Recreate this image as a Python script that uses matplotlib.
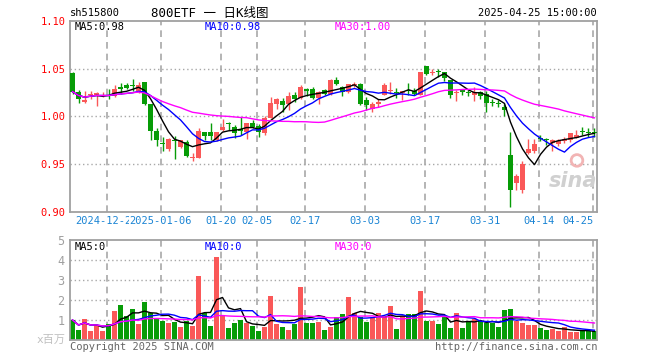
import matplotlib
matplotlib.use('Agg')
import matplotlib.pyplot as plt
import numpy as np
import pandas as pd

plt.rcParams['font.family'] = ['DejaVu Sans Mono', 'Noto Sans CJK SC']

# daily candles, 2024-12-13 .. 2025-04-25
opens = [1.046, 1.026, 1.015, 1.022, 1.021, 1.021, 1.023, 1.021, 1.031, 1.033,
         1.033, 1.027, 1.036, 1.013, 0.985, 0.972, 0.966, 0.975, 0.968, 0.973,
         0.957, 0.957, 0.984, 0.984, 0.975, 0.986, 0.993, 0.989, 0.987, 0.984,
         0.993, 0.990, 0.983, 0.998, 1.0135, 1.016, 1.013, 1.023, 1.019, 1.029,
         1.029, 1.019, 1.028, 1.024, 1.038, 1.031, 1.026, 1.033, 1.034, 1.017,
         1.008, 1.013, 1.023, 1.027, 1.026, 1.025, 1.028, 1.027, 1.023, 1.053,
         1.0455, 1.0475, 1.047, 1.0385, 1.0245, 1.028, 1.026, 1.022, 1.026, 1.024,
         1.015, 1.014, 1.010, 0.960, 0.930, 0.923, 0.9615, 0.964, 0.9774, 0.9764,
         0.9726, 0.971, 0.9747, 0.9754, 0.978, 0.9844, 0.9833, 0.9833]
highs = [1.047, 1.028, 1.027, 1.027, 1.026, 1.026, 1.029, 1.033, 1.035, 1.035,
         1.039, 1.036, 1.036, 1.013, 0.988, 0.979, 0.977, 0.980, 0.975, 0.975,
         0.962, 0.988, 0.984, 0.993, 0.984, 0.997, 0.994, 0.991, 0.999, 0.993,
         0.996, 0.992, 1.000, 1.020, 1.019, 1.019, 1.026, 1.026, 1.033, 1.030,
         1.031, 1.027, 1.029, 1.039, 1.041, 1.032, 1.034, 1.036, 1.035, 1.020,
         1.015, 1.018, 1.035, 1.036, 1.030, 1.027, 1.035, 1.030, 1.047, 1.053,
         1.050, 1.050, 1.047, 1.0385, 1.0275, 1.029, 1.028, 1.031, 1.027, 1.027,
         1.018, 1.017, 1.0135, 0.984, 0.940, 0.953, 0.976, 0.976, 0.981, 0.977,
         0.976, 0.976, 0.979, 0.983, 0.986, 0.989, 0.9875, 0.9875]
lows = [1.024, 1.014, 1.014, 1.018, 1.011, 1.020, 1.018, 1.020, 1.024, 1.029,
        1.027, 1.025, 1.012, 0.975, 0.969, 0.964, 0.964, 0.956, 0.967, 0.958,
        0.953, 0.957, 0.975, 0.975, 0.974, 0.985, 0.986, 0.977, 0.981, 0.976,
        0.988, 0.979, 0.981, 0.998, 1.008, 1.005, 1.007, 1.015, 1.018, 1.021,
        1.018, 1.0135, 1.023, 1.023, 1.033, 1.021, 1.025, 1.031, 1.012, 1.007,
        1.005, 1.010, 1.022, 1.024, 1.019, 1.017, 1.022, 1.022, 1.022, 1.043,
        1.043, 1.041, 1.037, 1.019, 1.016, 1.022, 1.021, 1.016, 1.018, 1.005,
        1.011, 1.010, 1.001, 0.905, 0.923, 0.920, 0.961, 0.9615, 0.974, 0.970,
        0.964, 0.969, 0.972, 0.9736, 0.9778, 0.9806, 0.9788, 0.9788]
closes = [1.026, 1.018, 1.017, 1.024, 1.025, 1.022, 1.022, 1.029, 1.029, 1.030,
          1.032, 1.033, 1.013, 0.985, 0.975, 0.971, 0.976, 0.974, 0.975, 0.959,
          0.958, 0.985, 0.980, 0.980, 0.984, 0.989, 0.992, 0.983, 0.985, 0.993,
          0.989, 0.984, 0.998, 1.014, 1.018, 1.0125, 1.021, 1.018, 1.031, 1.027,
          1.019, 1.026, 1.024, 1.038, 1.034, 1.026, 1.034, 1.034, 1.0135, 1.0125,
          1.0135, 1.015, 1.033, 1.028, 1.025, 1.027, 1.027, 1.024, 1.0465, 1.045,
          1.047, 1.0465, 1.040, 1.022, 1.026, 1.026, 1.025, 1.026, 1.021, 1.014,
          1.014, 1.013, 1.0065, 0.923, 0.938, 0.950, 0.966, 0.971, 0.9767, 0.9757,
          0.9754, 0.9747, 0.9767, 0.9823, 0.9806, 0.9837, 0.9826, 0.9826]
# volume, millions of shares
volumes = [1.0, 0.5, 1.06, 0.45, 0.75, 0.45, 0.8, 1.46, 1.76, 1.2,
           1.56, 0.8, 1.91, 1.34, 1.1, 0.96, 0.86, 0.9, 0.65, 0.95,
           0.7, 3.2, 1.34, 0.7, 4.13, 1.26, 0.6, 0.86, 1.0, 0.86,
           0.7, 0.45, 0.65, 2.2, 0.8, 0.65, 0.5, 0.8, 2.67, 0.86,
           0.86, 0.9, 0.5, 0.65, 1.16, 1.31, 2.16, 1.36, 1.16, 0.9,
           1.1, 1.36, 1.16, 1.71, 0.55, 1.2, 1.31, 1.31, 2.47, 0.96,
           0.96, 0.8, 1.16, 0.6, 1.36, 0.6, 0.9, 1.06, 0.96, 0.86,
           0.86, 0.65, 1.51, 1.56, 0.96, 0.86, 0.75, 0.75, 0.6, 0.5,
           0.55, 0.45, 0.65, 0.4, 0.4, 0.45, 0.45, 0.45]

tick_idx = [6, 15, 25, 31, 39, 49, 59, 69, 78, 87]
tick_labels = ['2024-12-23', '2025-01-06', '01-20', '02-05', '02-17',
               '03-03', '03-17', '03-31', '04-14', '04-25']
price_ticks = [0.90, 0.95, 1.00, 1.05, 1.10]
vol_ticks = [1, 2, 3, 4, 5]

RED = '#fa5858'
GREEN = '#079c07'
FRAME = '#a0a0a0'
GRID = '#a8a8a8'
DATE_C = '#1a84d4'

n = len(closes)
x = np.arange(n)
o = np.array(opens)
c = np.array(closes)
up = c >= o
colors = np.where(up, RED, GREEN)

cs = pd.Series(closes)
vs = pd.Series(volumes)
ma_specs = [(5, 'black'), (10, '#0000ff'), (30, '#ff00ff')]

W, H = 660, 360
fig = plt.figure(figsize=(6.6, 3.6), dpi=100)
ax = fig.add_axes([70 / W, 1 - 212 / H, 527 / W, 191 / H])
axv = fig.add_axes([70 / W, 1 - 340 / H, 527 / W, 100 / H])

for a in (ax, axv):
    a.set_xlim(-0.42, n - 0.58)
    for s in a.spines.values():
        s.set_color(FRAME)
        s.set_linewidth(1.3)
    a.tick_params(length=0)
    a.set_xticks([])
    for t in tick_idx:
        a.axvline(t - 0.3, color=GRID, lw=1.2, dashes=(4, 3), zorder=0)

# ---- price panel ----
ax.set_ylim(0.90, 1.10)
ax.set_yticks(price_ticks)
ax.set_yticklabels(['%.2f' % p for p in price_ticks], color='red', fontsize=7.5)
ax.tick_params(axis='y', pad=3)
for p in price_ticks[1:-1]:
    ax.axhline(p, color=GRID, lw=1, dashes=(1, 2), zorder=0)

ax.vlines(x, lows, highs, colors=colors, lw=1, zorder=2)
body = np.maximum(np.abs(c - o), 0.0007)
ax.bar(x, body, bottom=np.minimum(o, c), width=0.8, color=colors, zorder=3)

ma_labels = []
for win, col in ma_specs:
    ma = cs.rolling(win, min_periods=1).mean()
    ax.plot(x, ma, color=col, lw=1, zorder=4)
    ma_labels.append(('MA%d:%.2f' % (win, ma.iloc[-1]), col))

for (txt, col), xp in zip(ma_labels, [75, 205, 335]):
    ax.text((xp - 70) / 527, 0.968, txt, color=col, fontsize=7.5,
            transform=ax.transAxes, va='center', ha='left')

for k, (t, lab) in enumerate(zip(tick_idx, tick_labels)):
    ha = 'right' if k == len(tick_idx) - 1 else 'center'
    xt = t - 0.3 + (0.2 if ha == 'right' else 0)
    ax.text(xt, -0.047, lab, color=DATE_C, fontsize=7.5, ha=ha, va='center',
            transform=ax.get_xaxis_transform(),
            bbox=dict(facecolor='white', edgecolor='none', pad=0))

# sina watermark
ax.scatter([0.962], [0.27], s=70, facecolors='none', edgecolors='#f2b4b4',
           linewidths=2, transform=ax.transAxes, zorder=1)
ax.text(0.955, 0.16, 'sina', transform=ax.transAxes, fontsize=15,
        family='DejaVu Sans', style='italic', fontweight='bold',
        color='#d0d0d0', ha='center', va='center', zorder=1)

# ---- volume panel ----
axv.set_ylim(0, 5)
axv.set_yticks(vol_ticks)
axv.set_yticklabels([str(v) for v in vol_ticks], color='#a0a0a0', fontsize=8.5)
axv.tick_params(axis='y', pad=4)
for v in vol_ticks[:-1]:
    axv.axhline(v, color=GRID, lw=1, dashes=(1, 2), zorder=0)

axv.bar(x, volumes, width=0.8, color=colors, zorder=2)
vol_labels = []
for win, col in ma_specs:
    ma = vs.rolling(win, min_periods=1).mean()
    axv.plot(x, ma, color=col, lw=1, zorder=4)
    vol_labels.append(('MA%d:%d' % (win, int(ma.iloc[-1])), col))

for (txt, col), xp in zip(vol_labels, [75, 205, 335]):
    axv.text((xp - 70) / 527, 0.93, txt, color=col, fontsize=7.5,
             transform=axv.transAxes, va='center', ha='left')

# ---- header / footer texts ----
fig.text(70 / W, 1 - 13 / H, 'sh515800', fontsize=7.5, va='center', ha='left')
fig.text(151 / W, 1 - 13 / H, '800ETF 一 日K线图', fontsize=9, va='center', ha='left')
fig.text(597 / W, 1 - 13 / H, '2025-04-25 15:00:00', fontsize=7.5, va='center', ha='right')
fig.text(66 / W, 1 - 340 / H, 'x百万', fontsize=8, color='#c0c0c0', va='center', ha='right')
fig.text(70 / W, 1 - 347 / H, 'Copyright 2025 SINA.COM', fontsize=7.5, color='#666666',
         va='center', ha='left')
fig.text(597 / W, 1 - 347 / H, 'http://finance.sina.com.cn', fontsize=7.5, color='#666666',
         va='center', ha='right')

fig.savefig('out.png', dpi=100, facecolor='white')
